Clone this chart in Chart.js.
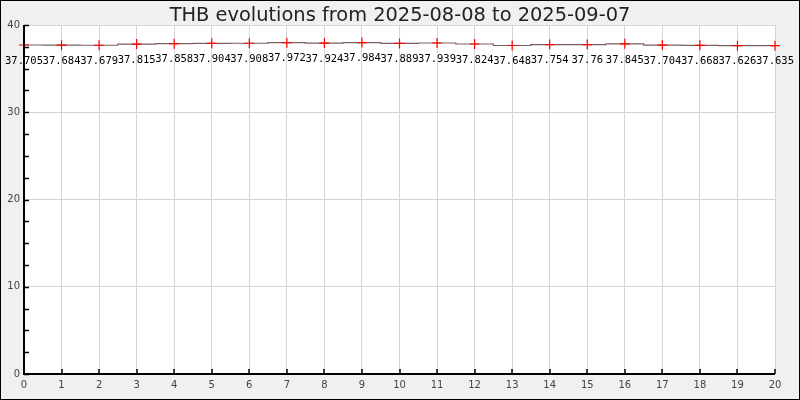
<!DOCTYPE html>
<html>
<head>
<meta charset="utf-8">
<script src="https://cdn.jsdelivr.net/npm/chart.js@4"></script>
<style>
html,body{margin:0;padding:0;background:#f0f0f0;}
#wrap{width:800px;height:400px;position:relative;}
</style>
</head>
<body>
<div id="wrap"><canvas id="c" width="800" height="400"></canvas></div>
<script>
const titleText = "THB evolutions from 2025-08-08 to 2025-09-07";
const xValues = [0,1,2,3,4,5,6,7,8,9,10,11,12,13,14,15,16,17,18,19,20];
const rates = [37.705,37.684,37.679,37.815,37.858,37.904,37.908,37.972,37.924,37.984,37.889,37.939,37.824,37.648,37.754,37.76,37.845,37.704,37.668,37.626,37.635];
const rateLabels = ["37.705","37.684","37.679","37.815","37.858","37.904","37.908","37.972","37.924","37.984","37.889","37.939","37.824","37.648","37.754","37.76","37.845","37.704","37.668","37.626","37.635"];
const yMin = 0, yMax = 40, yStep = 10, yMinorStep = 2.5;

const points = xValues.map((x,i)=>({x:x,y:rates[i]}));

const bgPlugin = {
  id:'bg',
  beforeDraw(chart){
    const ctx = chart.ctx, a = chart.chartArea;
    ctx.save();
    ctx.fillStyle = '#f0f0f0';
    ctx.fillRect(0,0,chart.width,chart.height);
    ctx.fillStyle = '#ffffff';
    ctx.fillRect(a.left,a.top,a.right-a.left,a.bottom-a.top);
    ctx.strokeStyle = '#000';
    ctx.lineWidth = 1;
    ctx.strokeRect(0.5,0.5,chart.width-1,chart.height-1);
    ctx.fillStyle = '#222';
    ctx.font = '19.4px "DejaVu Sans"';
    ctx.textAlign = 'center';
    ctx.textBaseline = 'middle';
    ctx.fillText(titleText, 400, 16);
    ctx.restore();
  },
  afterDatasetsDraw(chart){
    const ctx = chart.ctx, a = chart.chartArea;
    const xs = chart.scales.x, ys = chart.scales.y;
    ctx.save();
    ctx.strokeStyle = '#000';
    ctx.lineWidth = 2;
    ctx.beginPath();
    ctx.moveTo(a.left, a.top);
    ctx.lineTo(a.left, a.bottom);
    ctx.lineTo(a.right, a.bottom);
    ctx.stroke();
    ctx.lineWidth = 1.5;
    ctx.beginPath();
    for (let v = yMin; v <= yMax + 1e-9; v += yMinorStep) {
      const py = Math.round(ys.getPixelForValue(v)) + 0.5;
      ctx.moveTo(a.left, py);
      ctx.lineTo(a.left + 5, py);
    }
    for (const x of xValues) {
      const px = Math.round(xs.getPixelForValue(x));
      ctx.moveTo(px, a.bottom);
      ctx.lineTo(px, a.bottom - 5);
    }
    ctx.stroke();
    ctx.fillStyle = '#000';
    ctx.font = '10.5px "DejaVu Sans Mono"';
    ctx.textAlign = 'center';
    ctx.textBaseline = 'middle';
    points.forEach((p,i)=>{
      const px = xs.getPixelForValue(p.x);
      const py = ys.getPixelForValue(p.y);
      ctx.fillText(rateLabels[i], px, py + 16);
    });
    ctx.restore();
  }
};

new Chart(document.getElementById('c'), {
  type:'line',
  data:{datasets:[{
    data: points,
    borderColor:'#7a6060',
    borderWidth:1.2,
    stepped:'middle',
    pointStyle:'cross',
    pointRadius:5,
    pointBorderColor:'#ff0000',
    pointBackgroundColor:'#ff0000',
    pointBorderWidth:1.2,
    clip:false
  }]},
  options:{
    responsive:false,
    animation:false,
    events:[],
    layout:{padding:{top:25,right:25,left:0,bottom:0}},
    plugins:{legend:{display:false},title:{display:false},tooltip:{enabled:false}},
    scales:{
      x:{
        type:'linear', min:0, max:20,
        afterFit(s){ s.height = 26; },
        border:{display:false},
        grid:{color:'#d4d4d4', drawTicks:false, lineWidth:1},
        ticks:{stepSize:1, padding:5, color:'#444', font:{family:'"DejaVu Sans"', size:10}, maxRotation:0, autoSkip:false}
      },
      y:{
        min:yMin, max:yMax,
        afterFit(s){ s.width = 24; },
        border:{display:false},
        grid:{color:'#d4d4d4', drawTicks:false, lineWidth:1},
        ticks:{stepSize:yStep, padding:4, color:'#444', font:{family:'"DejaVu Sans"', size:10}}
      }
    }
  },
  plugins:[bgPlugin]
});
</script>
</body>
</html>
